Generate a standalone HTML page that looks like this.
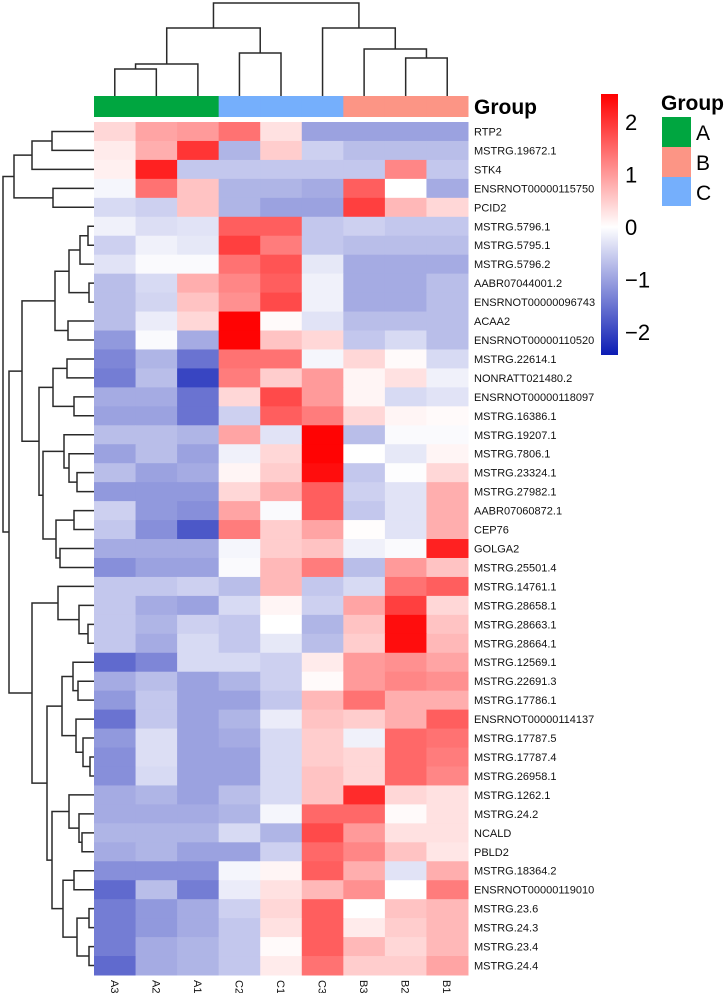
<!DOCTYPE html>
<html><head><meta charset="utf-8"><style>
body{margin:0;background:#fff;}
svg{display:block;font-family:"Liberation Sans",Arial,sans-serif;}
</style></head><body>
<svg id="chart" width="725" height="993" viewBox="0 0 725 993" xmlns="http://www.w3.org/2000/svg">
<defs>
<linearGradient id="cbar" x1="0" y1="1" x2="0" y2="0">
<stop offset="0" stop-color="#0c1cb4"/>
<stop offset="0.491" stop-color="#ffffff"/>
<stop offset="1" stop-color="#ff0000"/>
</linearGradient>
</defs>
<g id="cells"></g>
<g id="rowlabels"></g>
<g id="collabels"></g>
<g id="groupbar"></g>
<g id="rowdend" stroke="#2a2a2a" stroke-width="1.5" fill="none"></g>
<g id="coldend" stroke="#2a2a2a" stroke-width="1.5" fill="none"></g>
<text x="474" y="114" font-size="21" font-weight="bold" fill="#000">Group</text>
<g>
<rect x="601" y="94" width="17" height="261" fill="url(#cbar)"/>
<g id="cbticks" font-size="22" fill="#000"></g>
</g>
<g>
<text x="661" y="110" font-size="21" font-weight="bold" fill="#000">Group</text>
<rect x="662" y="117" width="29" height="30" fill="#00a640"/>
<rect x="662" y="147" width="29" height="30" fill="#fc9585"/>
<rect x="662" y="177" width="29" height="29" fill="#75affc"/>
<text x="696" y="140" font-size="21" fill="#000">A</text>
<text x="696" y="170" font-size="21" fill="#000">B</text>
<text x="696" y="200" font-size="21" fill="#000">C</text>
</g>
</svg>
<script>
const columns = ["A3","A2","A1","C2","C1","C3","B3","B2","B1"];
const columnGroups = ["A","A","A","C","C","C","B","B","B"];
const rows = ["RTP2","MSTRG.19672.1","STK4","ENSRNOT00000115750","PCID2","MSTRG.5796.1","MSTRG.5795.1","MSTRG.5796.2","AABR07044001.2","ENSRNOT00000096743","ACAA2","ENSRNOT00000110520","MSTRG.22614.1","NONRATT021480.2","ENSRNOT00000118097","MSTRG.16386.1","MSTRG.19207.1","MSTRG.7806.1","MSTRG.23324.1","MSTRG.27982.1","AABR07060872.1","CEP76","GOLGA2","MSTRG.25501.4","MSTRG.14761.1","MSTRG.28658.1","MSTRG.28663.1","MSTRG.28664.1","MSTRG.12569.1","MSTRG.22691.3","MSTRG.17786.1","ENSRNOT00000114137","MSTRG.17787.5","MSTRG.17787.4","MSTRG.26958.1","MSTRG.1262.1","MSTRG.24.2","NCALD","PBLD2","MSTRG.18364.2","ENSRNOT00000119010","MSTRG.23.6","MSTRG.24.3","MSTRG.23.4","MSTRG.24.4"];
const values = [
[0.4,0.9,1.0,1.4,0.3,-1.0,-1.0,-1.0,-1.0],
[0.2,0.8,2.0,-0.8,0.5,-0.5,-0.7,-0.7,-0.7],
[0.15,2.2,-0.6,-0.6,-0.6,-0.6,-0.6,1.2,-0.6],
[-0.1,1.4,0.6,-0.8,-0.8,-0.9,1.6,0,-0.9],
[-0.4,-0.5,0.6,-0.8,-1.0,-1.0,1.9,0.7,0.4],
[-0.15,-0.35,-0.3,1.6,1.6,-0.6,-0.5,-0.6,-0.6],
[-0.5,-0.15,-0.25,1.9,1.3,-0.6,-0.7,-0.7,-0.7],
[-0.3,-0.05,-0.05,1.4,1.7,-0.25,-0.9,-0.9,-0.9],
[-0.7,-0.4,0.8,1.2,1.6,-0.15,-0.9,-0.9,-0.7],
[-0.7,-0.45,0.6,1.1,1.8,-0.15,-0.9,-0.9,-0.7],
[-0.7,-0.2,0.4,2.5,0.05,-0.3,-0.7,-0.7,-0.7],
[-1.1,-0.05,-0.9,2.5,0.6,0.4,-0.6,-0.4,-0.7],
[-1.3,-0.8,-1.5,1.4,1.4,-0.1,0.4,0.05,-0.4],
[-1.4,-0.7,-2.0,1.3,0.5,1.0,0.1,0.3,-0.15],
[-0.9,-0.9,-1.5,0.4,1.8,1.0,0.1,-0.4,-0.3],
[-1.0,-1.0,-1.5,-0.5,1.6,1.3,0.4,0.1,0.05],
[-0.7,-0.7,-0.8,0.9,-0.3,2.5,-0.7,-0.05,-0.05],
[-1.0,-0.7,-1.0,-0.15,0.4,2.5,0,-0.25,0.1],
[-0.7,-1.0,-0.9,0.1,0.5,2.4,-0.6,-0.02,0.4],
[-1.1,-1.1,-1.1,0.4,0.8,1.6,-0.5,-0.3,0.8],
[-0.5,-1.1,-1.2,0.9,-0.05,1.6,-0.6,-0.3,0.8],
[-0.6,-1.2,-1.8,1.3,0.5,0.9,0.02,-0.3,0.8],
[-0.9,-0.9,-0.9,-0.1,0.5,0.6,-0.15,-0.05,2.2],
[-1.2,-1.0,-1.0,-0.05,0.7,1.3,-0.7,1.0,0.6],
[-0.6,-0.6,-0.5,-0.7,0.7,-0.6,-0.4,1.4,1.6],
[-0.6,-0.9,-1.0,-0.4,0.1,-0.5,0.9,1.9,0.4],
[-0.6,-0.8,-0.5,-0.6,0,-0.8,0.6,2.4,0.6],
[-0.6,-0.9,-0.4,-0.6,-0.25,-0.7,0.5,2.4,0.7],
[-1.6,-1.3,-0.4,-0.4,-0.5,0.2,1.0,1.1,0.9],
[-0.9,-0.7,-1.0,-0.8,-0.5,0.05,1.0,1.2,1.1],
[-1.1,-0.6,-1.0,-1.0,-0.6,0.7,1.4,0.8,0.8],
[-1.5,-0.6,-1.0,-0.8,-0.2,0.6,0.5,0.8,1.6],
[-1.1,-0.35,-1.0,-0.9,-0.4,0.5,-0.15,1.5,1.4],
[-1.2,-0.35,-1.0,-1.0,-0.4,0.5,0.4,1.5,1.3],
[-1.2,-0.4,-1.0,-1.0,-0.4,0.6,0.4,1.5,1.2],
[-0.9,-0.8,-1.0,-0.7,-0.4,0.6,2.1,0.4,0.3],
[-0.9,-0.9,-0.9,-0.8,-0.1,1.5,1.5,0.05,0.3],
[-0.8,-0.8,-0.8,-0.4,-0.8,1.8,1.0,0.3,0.3],
[-0.9,-0.8,-1.0,-1.0,-0.5,1.5,1.2,0.6,0.25],
[-1.2,-1.2,-1.2,-0.1,0.1,1.6,0.8,-0.3,0.8],
[-1.6,-0.7,-1.4,-0.2,0.3,0.7,1.1,0,1.3],
[-1.4,-1.1,-0.9,-0.5,0.4,1.6,0,0.6,0.7],
[-1.4,-1.1,-0.9,-0.6,0.3,1.6,0.2,0.5,0.7],
[-1.4,-0.9,-0.8,-0.6,0.05,1.6,0.7,0.4,0.7],
[-1.6,-0.9,-0.8,-0.6,0.2,1.4,0.5,0.5,0.9]
];
const colorTicks = [2,1,0,-1,-2];
const colorMin = -2.44;
const colorMax = 2.53;
// dendrogram trees: [height, left, right]; leaves are indices
const rowTree = [91,
  [80,[62,[42,0,1],2],[41,3,4]],
  [85,
    [72,
      [39,[25,[14,[6,5,6],7],[5,8,9]],[26,10,11]],
      [55,[41,[27,12,13],[20,14,15]],
          [51,[30,16,[25,17,[17,18,19]]],[38,[20,20,21],[34,22,23]]]]],
    [62,
      [36,24,[15,25,[6,26,27]]],
      [47,
        [32,[21,28,[16,29,30]],[18,31,[11,32,[4,33,34]]]],
        [42,[25,35,[15,36,[12,37,38]]],[31,[20,39,40],[17,[5,41,42],[5,43,44]]]]]]]];
const colTree = [93,
  [68,[32,[27,0,1],2],[43,3,4]],
  [68,5,[47,6,[38,7,8]]]];

const NS = "http://www.w3.org/2000/svg";
const X0 = 94, X1 = 468, Y0 = 122, Y1 = 975;
const cw = (X1 - X0) / columns.length, rh = (Y1 - Y0) / rows.length;
const xCol = i => X0 + i * cw;
const yRow = i => Y0 + i * rh;
const groupColor = {A:"#00a640", B:"#fc9585", C:"#75affc"};
const CB_TOP = 94, CB_BOT = 355;
const cbY = v => CB_BOT - (v - colorMin) / (colorMax - colorMin) * (CB_BOT - CB_TOP);

function mix(a, b, t){ return a.map((c,i)=>Math.round(c + (b[i]-c)*t)); }
function colorOf(v){
  let c;
  if (v >= 0) c = mix([255,255,255],[255,0,0],Math.min(1, v/colorMax));
  else c = mix([255,255,255],[12,28,180],Math.min(1, v/colorMin));
  return "rgb(" + c.join(",") + ")";
}
function mk(tag, attrs, parent){
  const e = document.createElementNS(NS, tag);
  for (const k in attrs) e.setAttribute(k, attrs[k]);
  parent.appendChild(e); return e;
}

const gCells = document.getElementById("cells");
rows.forEach((r, ri) => {
  columns.forEach((c, ci) => {
    const rect = mk("rect", {x: xCol(ci), y: yRow(ri), width: cw + 0.5, height: rh + 0.5, fill: colorOf(values[ri][ci])}, gCells);
    
    
  });
});

const gRL = document.getElementById("rowlabels");
rows.forEach((r, ri) => {
  const t = mk("text", {x: 474, y: yRow(ri) + rh/2 + 4, "font-size": 11, fill: "#111"}, gRL);
  t.textContent = r;
  
  
});

const gCL = document.getElementById("collabels");
columns.forEach((c, ci) => {
  const cx = xCol(ci) + cw/2;
  const t = mk("text", {x: 0, y: 0, "font-size": 11, fill: "#111", transform: "translate(" + (cx - 4) + ",980) rotate(90)"}, gCL);
  t.textContent = c;
  
  
});

const gGB = document.getElementById("groupbar");
columnGroups.forEach((g, ci) => {
  const r = mk("rect", {x: xCol(ci), y: 96, width: cw + 0.5, height: 21, fill: groupColor[g]}, gGB);
  
  
});

const gCB = document.getElementById("cbticks");
colorTicks.forEach(v => {
  const t = mk("text", {x: 625, y: cbY(v) + 8, "font-size": 22, fill: "#000"}, gCB);
  t.textContent = v < 0 ? "\u2212" + Math.abs(v) : String(v);
  
  
});

// row dendrogram
const gRD = document.getElementById("rowdend");
function drawRow(node){
  if (typeof node === "number") return {pos: yRow(node) + rh/2, h: 0};
  const a = drawRow(node[1]), b = drawRow(node[2]);
  const x = X0 - node[0];
  const p = mk("path", {d: "M" + (X0 - a.h) + "," + a.pos + "H" + x + "V" + b.pos + "H" + (X0 - b.h)}, gRD);
  
  
  return {pos: (a.pos + b.pos)/2, h: node[0]};
}
drawRow(rowTree);

// column dendrogram
const gCD = document.getElementById("coldend");
const CB = 96;
function drawCol(node){
  if (typeof node === "number") return {pos: xCol(node) + cw/2, h: 0};
  const a = drawCol(node[1]), b = drawCol(node[2]);
  const y = CB - node[0];
  const p = mk("path", {d: "M" + a.pos + "," + (CB - a.h) + "V" + y + "H" + b.pos + "V" + (CB - b.h)}, gCD);
  
  
  return {pos: (a.pos + b.pos)/2, h: node[0]};
}
drawCol(colTree);
</script>
</body></html>
